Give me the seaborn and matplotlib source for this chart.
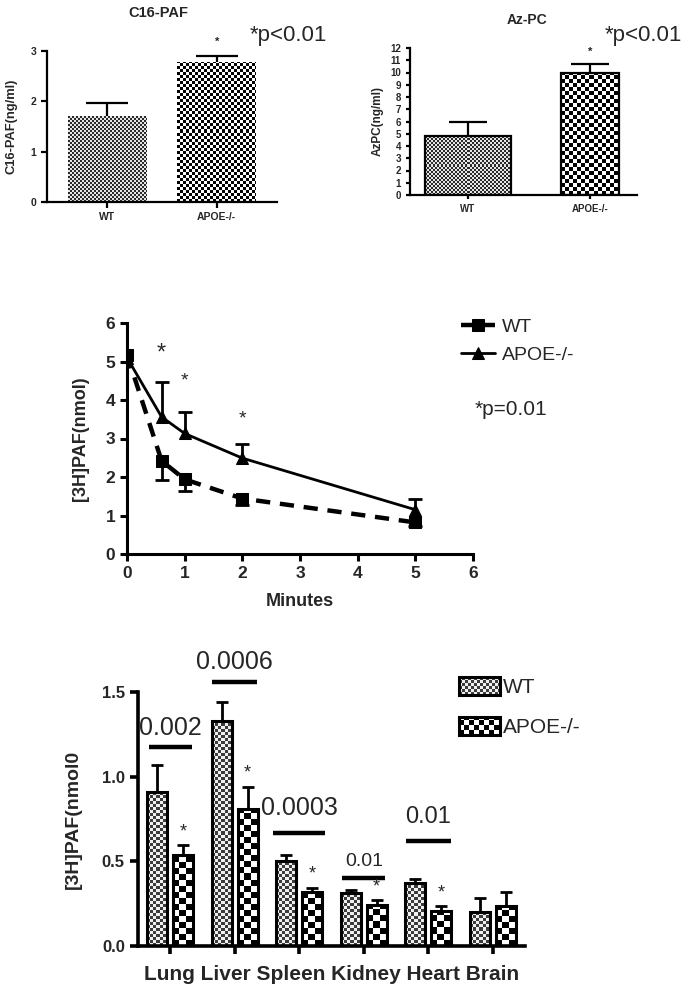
import numpy as np
import matplotlib
matplotlib.use("Agg")
import matplotlib.pyplot as plt
import seaborn as sns
import pandas as pd
from matplotlib.colors import to_rgb
from matplotlib.patches import Patch, Rectangle
from matplotlib.legend_handler import HandlerBase
from matplotlib.image import BboxImage
from matplotlib.transforms import Bbox, TransformedBbox

# ---------------- data ----------------
groups = ["WT", "APOE-/-"]
c16_values = [1.70, 2.77]
c16_err = [0.27, 0.13]
azpc_values = [4.85, 9.95]
azpc_err = [1.10, 0.75]

time_min = [0, 0.6, 1, 2, 5]
wt_paf = [5.18, 2.42, 1.94, 1.44, 0.82]
wt_paf_err = [0.0, 0.50, 0.30, 0.16, 0.09]
apoe_paf = [5.10, 3.56, 3.13, 2.49, 1.15]
apoe_paf_err = [0.0, 0.90, 0.56, 0.36, 0.29]
line_star_x = [0.6, 1, 2]
line_star_y = [5.2, 4.49, 3.51]

organs = ["Lung", "Liver", "Spleen", "Kidney", "Heart", "Brain"]
organ_wt = [0.91, 1.33, 0.50, 0.314, 0.373, 0.201]
organ_wt_err = [0.156, 0.113, 0.035, 0.018, 0.023, 0.084]
organ_apoe = [0.537, 0.81, 0.318, 0.244, 0.207, 0.234]
organ_apoe_err = [0.059, 0.13, 0.026, 0.026, 0.029, 0.084]
sig_organs = ["Lung", "Liver", "Spleen", "Kidney", "Heart"]
sig_labels = ["0.002", "0.0006", "0.0003", "0.01", "0.01"]
star_organs = ["Lung", "Liver", "Spleen", "Kidney", "Heart"]

# ---------------- style ----------------
sns.set_style("white")
plt.rcParams["font.family"] = ["Liberation Sans", "DejaVu Sans"]
plt.rcParams["font.weight"] = "bold"

W, H = 689, 994
fig = plt.figure(figsize=(W / 100, H / 100), dpi=100)


def fig_rect(left, top, right, bottom):
    return [left / W, 1 - bottom / H, (right - left) / W, (bottom - top) / H]


def checker(ax, patch, cell, dark, light, z=1.5):
    x0, y0 = patch.get_x(), patch.get_y()
    w, h = patch.get_width(), patch.get_height()
    p0 = ax.transData.transform((x0, y0))
    p1 = ax.transData.transform((x0 + w, y0 + h))
    nx = max(1, int(round(abs(p1[0] - p0[0]))))
    ny = max(1, int(round(abs(p1[1] - p0[1]))))
    ii, jj = np.indices((ny, nx))
    mask = ((ii / cell).astype(int) + (jj / cell).astype(int)) % 2 == 0
    img = np.empty((ny, nx, 3))
    img[mask] = to_rgb(dark)
    img[~mask] = to_rgb(light)
    ax.imshow(img, extent=(x0, x0 + w, y0, y0 + h), origin="lower",
              interpolation="nearest", aspect="auto", zorder=z)


def one_sided_errorbar(ax, x, y, err, upper=True, **kw):
    lower_e = [0] * len(err) if upper else list(err)
    upper_e = list(err) if upper else [0] * len(err)
    cont = ax.errorbar(x, y, yerr=[lower_e, upper_e], fmt="none", **kw)
    # hide the caps sitting at the data values themselves
    for cl in cont[1]:
        if np.allclose(np.asarray(cl.get_ydata(), dtype=float), np.asarray(y, dtype=float)):
            cl.set_visible(False)
    return cont


def style_axes(ax, lw, ticklen):
    sns.despine(ax=ax)
    for s in ["left", "bottom"]:
        ax.spines[s].set_linewidth(lw)
        ax.spines[s].set_color("black")
    ax.tick_params(axis="both", direction="out", length=ticklen, width=lw,
                   color="black", left=True, bottom=True)


# ---------------- panel 1: C16-PAF ----------------
ax1 = fig.add_axes(fig_rect(47, 51, 277, 202))
sns.barplot(x=groups, y=c16_values, ax=ax1, color="white", width=0.72,
            edgecolor="none", linewidth=0)
ax1.set_xlim(-0.55, 1.55)
ax1.set_ylim(0, 3)
ax1.set_yticks([0, 1, 2, 3])
style_axes(ax1, 1.6, 4)
cells1 = [(2, "#2a2a2a", "#e6e6e6"), (3, "black", "white")]
for p, (c, d, l) in zip(ax1.patches, cells1):
    p.set_facecolor("none")
    p.set_zorder(2)
    checker(ax1, p, c, d, l)
one_sided_errorbar(ax1, [0, 1], c16_values, c16_err, upper=True,
                   ecolor="black", elinewidth=1.6, capsize=15, capthick=1.6, zorder=1.4)
ax1.set_xlim(-0.55, 1.55)
ax1.set_ylim(0, 3)
ax1.set_ylabel("C16-PAF(ng/ml)", fontsize=9.3, fontweight="bold")
ax1.yaxis.set_label_coords(-0.13, 0.5)
ax1.set_xlabel("")
ax1.tick_params(labelsize=7.5)
for t in ax1.get_xticklabels() + ax1.get_yticklabels():
    t.set_fontweight("bold")
ax1.text(1, 3.18, "*", ha="center", va="center", fontsize=8, clip_on=False)
fig.text(158 / W, 1 - 13 / H, "C16-PAF", ha="center", va="center",
         fontsize=10.5, fontweight="bold")
fig.text(250 / W, 1 - 36 / H, "*p<0.01", ha="left", va="center",
         fontsize=16, fontweight="normal")

# ---------------- panel 2: Az-PC ----------------
ax2 = fig.add_axes(fig_rect(410, 48, 637, 195))
sns.barplot(x=groups, y=azpc_values, ax=ax2, color="white", width=0.7,
            edgecolor="black", linewidth=1.6)
ax2.set_xlim(-0.475, 1.385)
ax2.set_ylim(0, 12)
ax2.set_yticks(range(0, 13))
style_axes(ax2, 1.6, 3)
bar_widths2 = [0.70, 0.47]
cells2 = [(2, "#2a2a2a", "#e6e6e6"), (4, "black", "white")]
for i, (p, bw, (c, d, l)) in enumerate(zip(ax2.patches, bar_widths2, cells2)):
    p.set_width(bw)
    p.set_x(i - bw / 2)
    p.set_facecolor("none")
    p.set_zorder(2)
    checker(ax2, p, c, d, l)
one_sided_errorbar(ax2, [0, 1], azpc_values, azpc_err, upper=True,
                   ecolor="black", elinewidth=1.6, capsize=14, capthick=1.6, zorder=1.4)
ax2.set_xlim(-0.475, 1.385)
ax2.set_ylim(0, 12)
ax2.set_ylabel("AzPC(ng/ml)", fontsize=8.5, fontweight="bold")
ax2.yaxis.set_label_coords(-0.115, 0.5)
ax2.set_xlabel("")
ax2.tick_params(labelsize=7)
for t in ax2.get_xticklabels() + ax2.get_yticklabels():
    t.set_fontweight("bold")
ax2.text(1, 11.67, "*", ha="center", va="center", fontsize=8, clip_on=False)
fig.text(527 / W, 1 - 20 / H, "Az-PC", ha="center", va="center",
         fontsize=10, fontweight="bold")
fig.text(605 / W, 1 - 36 / H, "*p<0.01", ha="left", va="center",
         fontsize=16, fontweight="normal")

# ---------------- panel 3: clearance time course ----------------
ax3 = fig.add_axes(fig_rect(127, 323, 473, 554))
sns.lineplot(x=time_min, y=wt_paf, ax=ax3, color="black", linewidth=3.2,
             linestyle="--", marker="s", markersize=8, markeredgecolor="black",
             label="WT", errorbar=None, zorder=3)
sns.lineplot(x=time_min, y=apoe_paf, ax=ax3, color="black", linewidth=2,
             marker="^", markersize=8.5, markeredgecolor="black",
             label="APOE-/-", errorbar=None, zorder=3)
ax3.lines[0].set_dashes((3.2, 2.2))
one_sided_errorbar(ax3, time_min[1:], wt_paf[1:], wt_paf_err[1:], upper=False,
                   ecolor="black", elinewidth=2, capsize=5, capthick=2, zorder=2)
one_sided_errorbar(ax3, time_min[1:], apoe_paf[1:], apoe_paf_err[1:], upper=True,
                   ecolor="black", elinewidth=2, capsize=5, capthick=2, zorder=2)
ax3.set_xlim(0, 6)
ax3.set_ylim(0, 6)
ax3.set_xticks(range(0, 7))
ax3.set_yticks(range(0, 7))
style_axes(ax3, 2.2, 5)
ax3.tick_params(labelsize=12.5)
for t in ax3.get_xticklabels() + ax3.get_yticklabels():
    t.set_fontweight("bold")
ax3.set_xlabel("Minutes", fontsize=13, fontweight="bold")
ax3.xaxis.set_label_coords(0.5, -0.17)
ax3.set_ylabel("[3H]PAF(nmol)", fontsize=13, fontweight="bold")
ax3.yaxis.set_label_coords(-0.11, 0.5)
for i, (sx, sy) in enumerate(zip(line_star_x, line_star_y)):
    ax3.text(sx, sy, "*", ha="center", va="center",
             fontsize=17 if i == 0 else 14, fontweight="normal")
leg3 = ax3.legend(loc="upper left", bbox_to_anchor=(461 / W, 1 - 318 / H),
                  bbox_transform=fig.transFigure, frameon=False, fontsize=14,
                  handlelength=1.75, handletextpad=0.35, borderpad=0,
                  borderaxespad=0, labelspacing=0.55)
for t in leg3.get_texts():
    t.set_fontweight("normal")
fig.text(475 / W, 1 - 410 / H, "*p=0.01", ha="left", va="center",
         fontsize=15, fontweight="normal")

# ---------------- panel 4: organ distribution ----------------
ax4 = fig.add_axes(fig_rect(138, 692, 525, 946))
df4 = pd.DataFrame({
    "organ": organs * 2,
    "value": organ_wt + organ_apoe,
    "group": ["WT"] * len(organs) + ["APOE-/-"] * len(organs),
})
sns.barplot(data=df4, x="organ", y="value", hue="group", hue_order=groups,
            order=organs, ax=ax4, palette=["white", "white"], width=0.8,
            gap=0.22, edgecolor="black", linewidth=2.2, legend=False,
            errorbar=None)
ax4.set_xlim(-0.5, 5.5)
ax4.set_ylim(0, 1.5)
ax4.set_yticks([0, 0.5, 1.0, 1.5])
ax4.set_yticklabels(["0.0", "0.5", "1.0", "1.5"])
style_axes(ax4, 2.6, 6)
bars = ax4.patches[:2 * len(organs)]
wt_bars = bars[:len(organs)]
apoe_bars = bars[len(organs):]
for p in wt_bars:
    p.set_facecolor("none")
    p.set_zorder(2)
    checker(ax4, p, 3, "#3c3c3c", "#f0f0f0")
for p in apoe_bars:
    p.set_facecolor("none")
    p.set_zorder(2)
    checker(ax4, p, 6, "black", "white")
wt_x = [p.get_x() + p.get_width() / 2 for p in wt_bars]
apoe_x = [p.get_x() + p.get_width() / 2 for p in apoe_bars]
one_sided_errorbar(ax4, wt_x, organ_wt, organ_wt_err, upper=True,
                   ecolor="black", elinewidth=2, capsize=4, capthick=2, zorder=1.4)
one_sided_errorbar(ax4, apoe_x, organ_apoe, organ_apoe_err, upper=True,
                   ecolor="black", elinewidth=2, capsize=4, capthick=2, zorder=1.4)
ax4.set_xlim(-0.5, 5.5)
ax4.set_ylim(0, 1.5)
ax4.tick_params(axis="y", labelsize=12)
ax4.set_xticklabels([])
for t in ax4.get_yticklabels():
    t.set_fontweight("bold")
ax4.text(0.5, -0.114, " ".join(organs), transform=ax4.transAxes, ha="center",
         va="center", fontsize=15, fontweight="bold")
ax4.set_xlabel("")
ax4.set_ylabel("[3H]PAF(nmol0", fontsize=14, fontweight="bold")
ax4.yaxis.set_label_coords(-0.145, 0.5)

# significance brackets and p-values
sig_line_y = [1.175, 1.56, 0.67, 0.40, 0.62]
sig_text_y = [1.29, 1.68, 0.815, 0.50, 0.76]
sig_half = [0.33, 0.35, 0.40, 0.33, 0.35]
sig_size = [18, 18, 18, 14, 17]
for org, lab, ly, ty, hw, fs in zip(sig_organs, sig_labels, sig_line_y,
                                     sig_text_y, sig_half, sig_size):
    xi = organs.index(org)
    ax4.plot([xi - hw, xi + hw], [ly, ly], color="black", lw=3.2,
             solid_capstyle="butt", clip_on=False)
    ax4.text(xi, ty, lab, ha="center", va="center", fontsize=fs,
             fontweight="normal", clip_on=False)
for org in star_organs:
    xi = organs.index(org)
    top = organ_apoe[xi] + organ_apoe_err[xi]
    ax4.text(apoe_x[xi], top + 0.08, "*", ha="center", va="center",
             fontsize=13, fontweight="normal")


class CheckerHandler(HandlerBase):
    def __init__(self, cell, dark, light, lw, dpi):
        super().__init__()
        self.cell, self.dark, self.light, self.lw, self.dpi = cell, dark, light, lw, dpi

    def create_artists(self, legend, orig_handle, xdescent, ydescent, width,
                       height, fontsize, trans):
        s = self.dpi / 72.0
        nx, ny = max(1, int(round(width * s))), max(1, int(round(height * s)))
        ii, jj = np.indices((ny, nx))
        mask = ((ii // self.cell) + (jj // self.cell)) % 2 == 0
        img = np.empty((ny, nx, 3))
        img[mask] = to_rgb(self.dark)
        img[~mask] = to_rgb(self.light)
        bb = TransformedBbox(Bbox.from_bounds(-xdescent, -ydescent, width, height), trans)
        im = BboxImage(bb, interpolation="nearest", origin="lower")
        im.set_data(img)
        rect = Rectangle((-xdescent, -ydescent), width, height, facecolor="none",
                         edgecolor="black", lw=self.lw, transform=trans)
        return [im, rect]


h_wt = Patch(label="WT")
h_apoe = Patch(label="APOE-/-")
leg4 = ax4.legend(handles=[h_wt, h_apoe], loc="upper left",
                  bbox_to_anchor=(459 / W, 1 - 677 / H),
                  bbox_transform=fig.transFigure, frameon=False, fontsize=15,
                  handlelength=1.95, handleheight=0.95, handletextpad=0.15,
                  borderpad=0, borderaxespad=0, labelspacing=0.95,
                  handler_map={h_wt: CheckerHandler(3, "#3c3c3c", "#f0f0f0", 2.2, fig.dpi),
                               h_apoe: CheckerHandler(5, "black", "white", 2.2, fig.dpi)})
for t in leg4.get_texts():
    t.set_fontweight("normal")

fig.savefig("out.png", dpi=100)
